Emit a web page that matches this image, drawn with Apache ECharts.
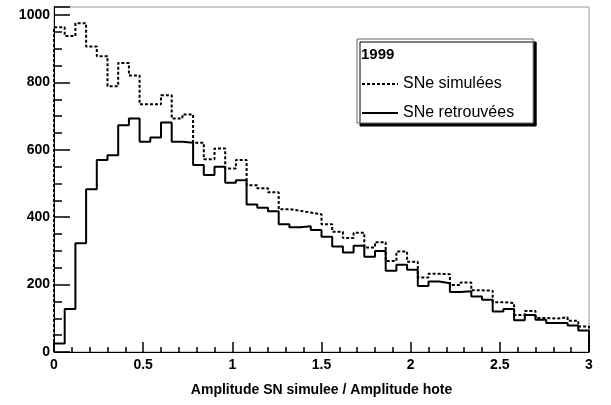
<!DOCTYPE html>
<html lang="en">

<head>
    <meta charset="UTF-8">
    <title>SNe 1999</title>
    <script src="https://cdn.jsdelivr.net/npm/echarts@6/dist/echarts.min.js"></script>
    <style>
        * {
            margin: 0;
            padding: 0;
        }

        #main {
            width: 611px;
            height: 405px;
            background: #fff;
        }
    </style>
</head>

<body>
    <div id="main"></div>
    <script>
        // histogram: 50 bins from 0 to 3
        const binWidth = 0.06;
        const xMin = 0;
        const xMax = 3;
        const yMax = 1024;
        const yStep = 200;

        const simulees = [964, 938, 976, 907, 878, 789, 858, 821, 735, 735,
            762, 693, 705, 621, 572, 604, 545, 570, 495, 486,
            474, 424, 419, 414, 409, 379, 357, 338, 354, 310,
            326, 270, 298, 268, 221, 232, 231, 199, 206, 183,
            182, 148, 145, 110, 122, 101, 99, 103, 93, 76];
        const retrouvees = [25, 128, 323, 483, 570, 584, 673, 693, 624, 637,
            681, 624, 621, 555, 525, 550, 502, 510, 438, 428,
            418, 379, 370, 373, 362, 342, 313, 295, 315, 283,
            300, 241, 259, 244, 196, 209, 204, 178, 180, 165,
            155, 120, 128, 94, 110, 96, 86, 86, 79, 64];

        const seriesNames = ['SNe simulées', 'SNe retrouvées'];

        // outline of a histogram, drawn as a step line from the bin edges
        function histPoints(values) {
            let pts = [[xMin, 0]];
            values.forEach((v, i) => pts.push([xMin + i * binWidth, v]));
            pts.push([xMax, values[values.length - 1]]);
            pts.push([xMax, 0]);
            return pts;
        }

        let myChart = echarts.init(document.getElementById('main'));
        let labelFont = { fontFamily: 'Liberation Sans', fontWeight: 'bold', fontSize: 14, color: '#000' };

        let option = {
            animation: false,
            grid: {
                left: 54, right: 22, top: 7, bottom: 53,
                show: true, borderColor: '#999', borderWidth: 1
            },
            title: {
                text: '1999', left: 361, top: 47, padding: 0,
                textStyle: { fontFamily: 'Liberation Sans', fontWeight: 'bold', fontSize: 15, color: '#000' }
            },
            xAxis: {
                type: 'value', min: xMin, max: xMax, interval: 0.5,
                name: 'Amplitude SN simulee / Amplitude hote',
                nameLocation: 'middle', nameGap: 31,
                nameTextStyle: Object.assign({}, labelFont),
                axisLine: { show: true, lineStyle: { color: '#000' } },
                axisTick: { show: true, inside: true, length: 10, lineStyle: { color: '#000', width: 1.5 } },
                minorTick: { show: true, splitNumber: 5, length: 5, lineStyle: { color: '#000', width: 1.5 } },
                axisLabel: Object.assign({ margin: 6, formatter: v => String(v) }, labelFont),
                splitLine: { show: false }
            },
            yAxis: {
                type: 'value', min: 0, max: yMax, interval: yStep,
                axisLine: { show: true, lineStyle: { color: '#000' } },
                axisTick: { show: true, inside: true, length: 16, lineStyle: { color: '#000', width: 1.5 } },
                minorTick: { show: true, splitNumber: 4, length: 8, lineStyle: { color: '#000', width: 1.5 } },
                axisLabel: Object.assign({
                    margin: 4, showMaxLabel: false,
                    formatter: v => (v % yStep === 0 ? String(v) : '')
                }, labelFont),
                splitLine: { show: false }
            },
            legend: {
                orient: 'vertical',
                left: 357, top: 39,
                padding: [37, 19, 2, 4],
                backgroundColor: '#fff',
                borderColor: '#666', borderWidth: 1,
                shadowColor: '#000', shadowBlur: 0, shadowOffsetX: 3, shadowOffsetY: 3,
                itemWidth: 36, itemHeight: 14, itemGap: 13,
                itemStyle: { opacity: 0 },
                textStyle: { fontFamily: 'Liberation Sans', fontSize: 16, color: '#000' },
                data: seriesNames
            },
            series: [{
                name: seriesNames[0],
                type: 'line', step: 'end', symbol: 'none',
                itemStyle: { color: '#000' },
                lineStyle: { color: '#000', width: 2, type: [3, 2] },
                data: histPoints(simulees)
            }, {
                name: seriesNames[1],
                type: 'line', step: 'end', symbol: 'none',
                itemStyle: { color: '#000' },
                lineStyle: { color: '#000', width: 2 },
                data: histPoints(retrouvees)
            }]
        };

        myChart.setOption(option);
    </script>
</body>

</html>
